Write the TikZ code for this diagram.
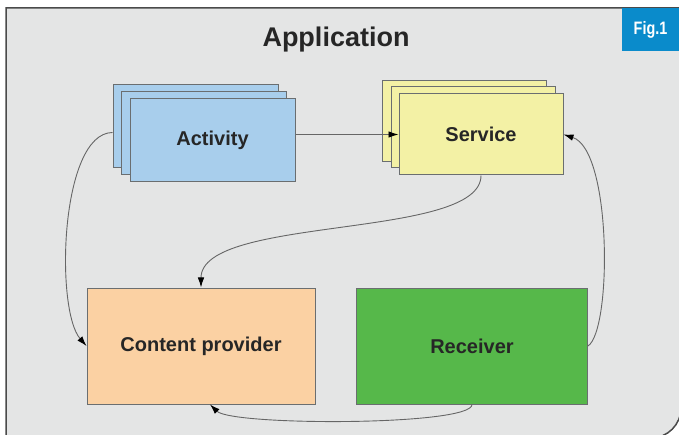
\documentclass[tikz,border=0pt]{standalone}
\usepackage{fontspec}
\setmainfont{Liberation Sans}
\newfontfamily\figfont[FakeStretch=0.8]{Liberation Sans}
\usetikzlibrary{arrows.meta,positioning}
\definecolor{bggray}{HTML}{E4E5E5}
\definecolor{frameline}{HTML}{4A4A4A}
\definecolor{boxline}{HTML}{6A6E70}
\definecolor{linkgray}{HTML}{666666}
\definecolor{actblue}{HTML}{A8CEEC}
\definecolor{srvyellow}{HTML}{F3F1A5}
\definecolor{cppeach}{HTML}{FBD1A3}
\definecolor{rcvgreen}{HTML}{56B84A}
\definecolor{figblue}{HTML}{0A8BCB}
\tikzset{
every node/.style={font=\bfseries\fontsize{20}{24}\selectfont, text=black!85},
actbox/.style= {rectangle, draw=boxline, line width=1pt, fill=actblue, minimum width=165pt, minimum height=83pt},
srvbox/.style= {rectangle, draw=boxline, line width=1pt, fill=srvyellow, minimum width=164pt, minimum height=81pt},
cpbox/.style= {rectangle, draw=boxline, line width=1pt, fill=cppeach, minimum width=228pt, minimum height=116pt},
rcvbox/.style= {rectangle, draw=boxline, line width=1pt, fill=rcvgreen, minimum width=231pt, minimum height=116pt},
figbox/.style= {rectangle, fill=figblue, text=white, minimum width=57pt, minimum height=43pt, font=\figfont\bfseries\fontsize{18}{20}\selectfont},
link/.style= {draw=linkgray, line width=0.9pt, -{Latex[color=black,length=10pt,width=6.5pt]}}
}

\begin{document}
\begin{tikzpicture}[x=1pt, y=-1pt]
\useasboundingbox (0,0) rectangle (679,435);
\draw[frameline, line width=1.5pt, fill=bggray] (6,440) -- (6,8) -- (681,8) -- (681,408) arc[start angle=0, end angle=90, radius=30] -- cycle;
\node[figbox] (fig) at (650.5,29.5) {Fig.1};
\node[font=\bfseries\fontsize{27}{30}\selectfont, anchor=base] (title) at (336,47) {Application};

\coordinate (actc) at (212.5,140.5);
\coordinate (srvc) at (481,134.5);
\foreach \dx/\dy/\n in {-17/-14/3,-9/-7/2}
  \node[actbox] (act\n) at ([shift={(\dx,\dy)}]actc) {};
\node[actbox] (act) at (actc) {Activity};
\foreach \dx/\dy/\n in {-17/-13/3,-8/-7/2}
  \node[srvbox] (srv\n) at ([shift={(\dx,\dy)}]srvc) {};
\node[srvbox] (srv) at (srvc) {Service};

\node[cpbox] (cp) at (201,346) {Content provider};
\node[rcvbox] (rcv) at (472,346) {Receiver};

\draw[link] (act.east |- srv.west) -- (srv.west);
\draw[link] ([yshift=-6pt]act3.west) .. controls (60,133) and (55,310) .. (cp.west);
\draw[link] (srv.south) .. controls (481,240) and (201,215) .. (cp.north);
\draw[link] (rcv.east) .. controls (612,330) and (612,150) .. (srv.east);
\draw[link] (rcv.south) .. controls (472,426) and (232,426) .. ([xshift=9pt]cp.south);
\end{tikzpicture}
\end{document}
